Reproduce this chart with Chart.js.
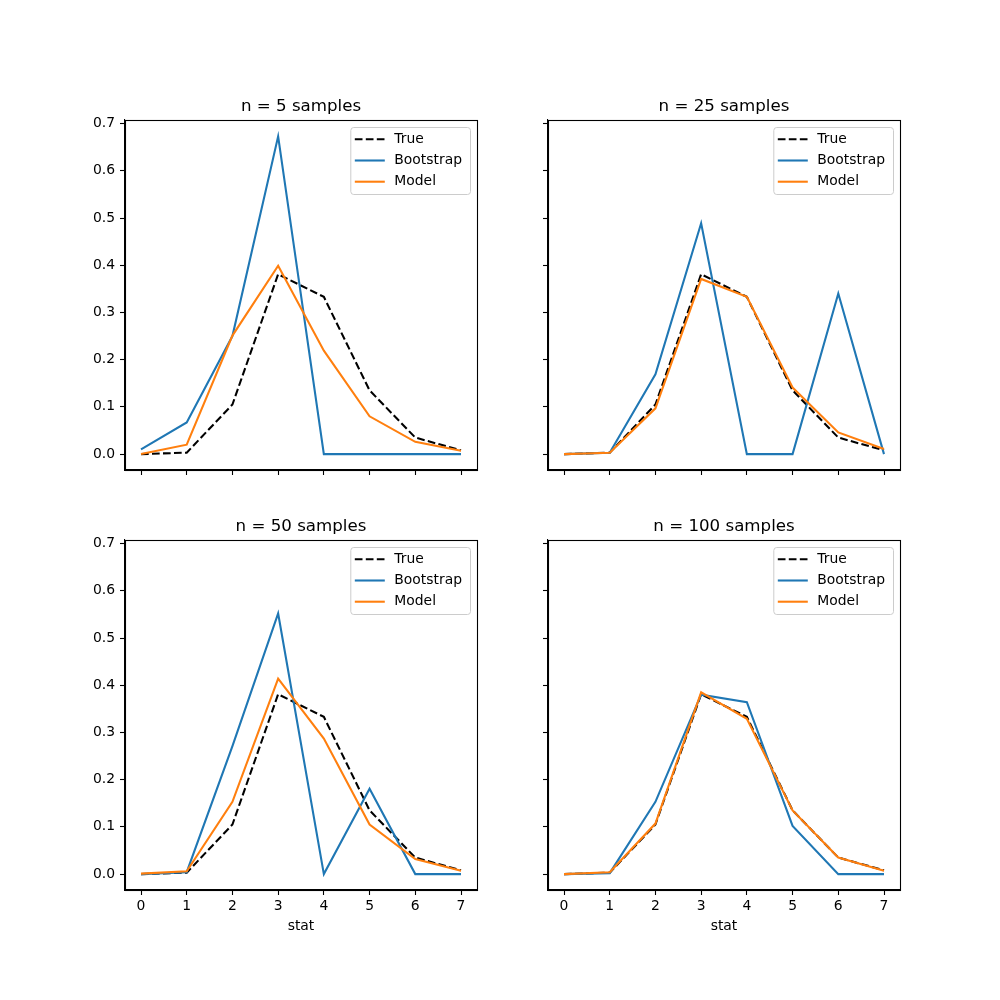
<!DOCTYPE html>
<html>
<head>
<meta charset="utf-8">
<script src="https://cdn.jsdelivr.net/npm/chart.js@4.4.1/dist/chart.umd.min.js"></script>
<style>
    html, body { margin: 0; padding: 0; background: #fff; }
    #fig { position: relative; width: 1000px; height: 1000px; }
    #fig canvas { position: absolute; }
</style>
</head>
<body>
<div id="fig"></div>
<script>
// --- DATA ---
const statValues = [0, 1, 2, 3, 4, 5, 6, 7];
const yTickValues = [0, 0.1, 0.2, 0.3, 0.4, 0.5, 0.6, 0.7];
const panelTitles = ["n = 5 samples", "n = 25 samples", "n = 50 samples", "n = 100 samples"];
const seriesNames = ["True", "Bootstrap", "Model"];

const trueDist = [0.000, 0.003, 0.105, 0.381, 0.333, 0.135, 0.035, 0.008];

const bootstrap5 = [0.010, 0.067, 0.250, 0.673, 0.000, 0.000, 0.000, 0.000];
const model5 = [0.000, 0.020, 0.251, 0.399, 0.219, 0.080, 0.026, 0.007];

const bootstrap25 = [0.000, 0.003, 0.169, 0.489, 0.000, 0.000, 0.340, 0.000];
const model25 = [0.000, 0.003, 0.097, 0.371, 0.333, 0.141, 0.046, 0.011];

const bootstrap50 = [0.000, 0.004, 0.271, 0.552, 0.000, 0.181, 0.000, 0.000];
const model50 = [0.001, 0.006, 0.153, 0.414, 0.287, 0.105, 0.032, 0.007];

const bootstrap100 = [0.000, 0.002, 0.153, 0.380, 0.364, 0.102, 0.000, 0.000];
const model100 = [0.000, 0.004, 0.107, 0.385, 0.329, 0.135, 0.035, 0.007];

const panelBootstrap = [bootstrap5, bootstrap25, bootstrap50, bootstrap100];
const panelModel = [model5, model25, model50, model100];

// --- LAYOUT (matplotlib default subplot geometry) ---
const AX_LEFT = [125, 548];
const AX_TOP = [120, 540];
const AX_W = 352, AX_H = 350;
const PAD_LEFT = 50, PAD_RIGHT = 20, PAD_TOP = 40;
const FONT = "'DejaVu Sans', sans-serif";
const LINE_W = 2.08;

const COLORS = { True: "#000000", Bootstrap: "#1f77b4", Model: "#ff7f0e" };

function toPoints(values) {
    return statValues.map((x, i) => ({ x: x, y: values[i] }));
}

function alignPx(p) {
    return Math.round(p - 0.5) + 0.5;
}

// Draws the closed axes frame and a matplotlib-like legend inside the axes
const axesDecor = {
    id: "axesDecor",
    afterDatasetsDraw(chart) {
        const ctx = chart.ctx;
        const a = chart.chartArea;
        ctx.save();

        // frame
        ctx.strokeStyle = "#000";
        ctx.lineWidth = 1.1;
        const l = alignPx(a.left), r = alignPx(a.right);
        const t = alignPx(a.top), b = alignPx(a.bottom);
        ctx.strokeRect(l, t, r - l, b - t);

        // legend
        ctx.font = "13.9px " + FONT;
        const names = chart.data.datasets.map(d => d.label);
        const textW = Math.max(...names.map(n => ctx.measureText(n).width));
        const boxW = 44 + textW + 8;
        const boxH = 67;
        const bx = a.right - 7 - boxW;
        const by = a.top + 7;

        ctx.beginPath();
        ctx.roundRect(bx + 0.5, by + 0.5, boxW, boxH, 3);
        ctx.fillStyle = "rgba(255,255,255,0.8)";
        ctx.fill();
        ctx.lineWidth = 1;
        ctx.strokeStyle = "#cccccc";
        ctx.stroke();

        chart.data.datasets.forEach((ds, i) => {
            const cy = by + 12.3 + i * 21.2;
            ctx.beginPath();
            ctx.setLineDash(ds.borderDash || []);
            ctx.strokeStyle = ds.borderColor;
            ctx.lineWidth = ds.borderWidth;
            ctx.moveTo(bx + 4.5, cy);
            ctx.lineTo(bx + 34.5, cy);
            ctx.stroke();
            ctx.setLineDash([]);
            ctx.fillStyle = "#000";
            ctx.textBaseline = "middle";
            ctx.textAlign = "left";
            ctx.fillText(ds.label, bx + 44, cy);
        });
        ctx.restore();
    }
};

function makePanel(idx) {
    const col = idx % 2;
    const row = Math.floor(idx / 2);
    const bottomH = row === 0 ? 30 : 60;

    const canvas = document.createElement("canvas");
    canvas.width = PAD_LEFT + AX_W + PAD_RIGHT;
    canvas.height = PAD_TOP + AX_H + bottomH;
    canvas.style.left = (AX_LEFT[col] - PAD_LEFT) + "px";
    canvas.style.top = (AX_TOP[row] - PAD_TOP) + "px";
    document.getElementById("fig").appendChild(canvas);

    const seriesData = [trueDist, panelBootstrap[idx], panelModel[idx]];

    new Chart(canvas.getContext("2d"), {
        type: "line",
        data: {
            datasets: seriesNames.map((name, i) => ({
                label: name,
                data: toPoints(seriesData[i]),
                borderColor: COLORS[name],
                borderWidth: LINE_W,
                borderDash: name === "True" ? [7.7, 3.3] : [],
                pointRadius: 0,
                tension: 0,
                fill: false,
                order: 3 - i
            }))
        },
        options: {
            responsive: false,
            animation: false,
            events: [],
            layout: { padding: { left: 0, right: PAD_RIGHT, top: 0, bottom: 0 } },
            plugins: {
                legend: { display: false },
                tooltip: { enabled: false },
                title: {
                    display: true,
                    text: panelTitles[idx],
                    fullSize: false,
                    color: "#000",
                    font: { family: FONT, size: 16.67, weight: "normal", lineHeight: 1.2 },
                    padding: { top: PAD_TOP - 20 - 3, bottom: 3 }
                }
            },
            scales: {
                x: {
                    type: "linear",
                    min: -0.35,
                    max: 7.35,
                    afterBuildTicks: s => { s.ticks = statValues.map(v => ({ value: v })); },
                    afterFit: s => { s.height = bottomH; },
                    grid: { drawOnChartArea: false, drawTicks: true, tickLength: 5, tickColor: "#000", tickWidth: 1.1 },
                    border: { display: true, color: "#000", width: 1.1 },
                    ticks: {
                        color: "#000",
                        padding: 3,
                        maxRotation: 0,
                        autoSkip: false,
                        font: { family: FONT, size: 13.9 },
                        callback: v => row === 1 ? String(v) : ""
                    },
                    title: {
                        display: row === 1,
                        text: "stat",
                        color: "#000",
                        font: { family: FONT, size: 13.9, lineHeight: 1.2 },
                        padding: { top: 0, bottom: 15 }
                    }
                },
                y: {
                    type: "linear",
                    min: -0.0337,
                    max: 0.7077,
                    afterBuildTicks: s => { s.ticks = yTickValues.map(v => ({ value: v })); },
                    afterFit: s => { s.width = PAD_LEFT; },
                    grid: { drawOnChartArea: false, drawTicks: true, tickLength: 5, tickColor: "#000", tickWidth: 1.1 },
                    border: { display: true, color: "#000", width: 1.1 },
                    ticks: {
                        color: "#000",
                        padding: 5,
                        autoSkip: false,
                        font: { family: FONT, size: 13.9 },
                        callback: v => col === 0 ? v.toFixed(1) : ""
                    }
                }
            }
        },
        plugins: [axesDecor]
    });
}

[0, 1, 2, 3].forEach(makePanel);
</script>
</body>
</html>
